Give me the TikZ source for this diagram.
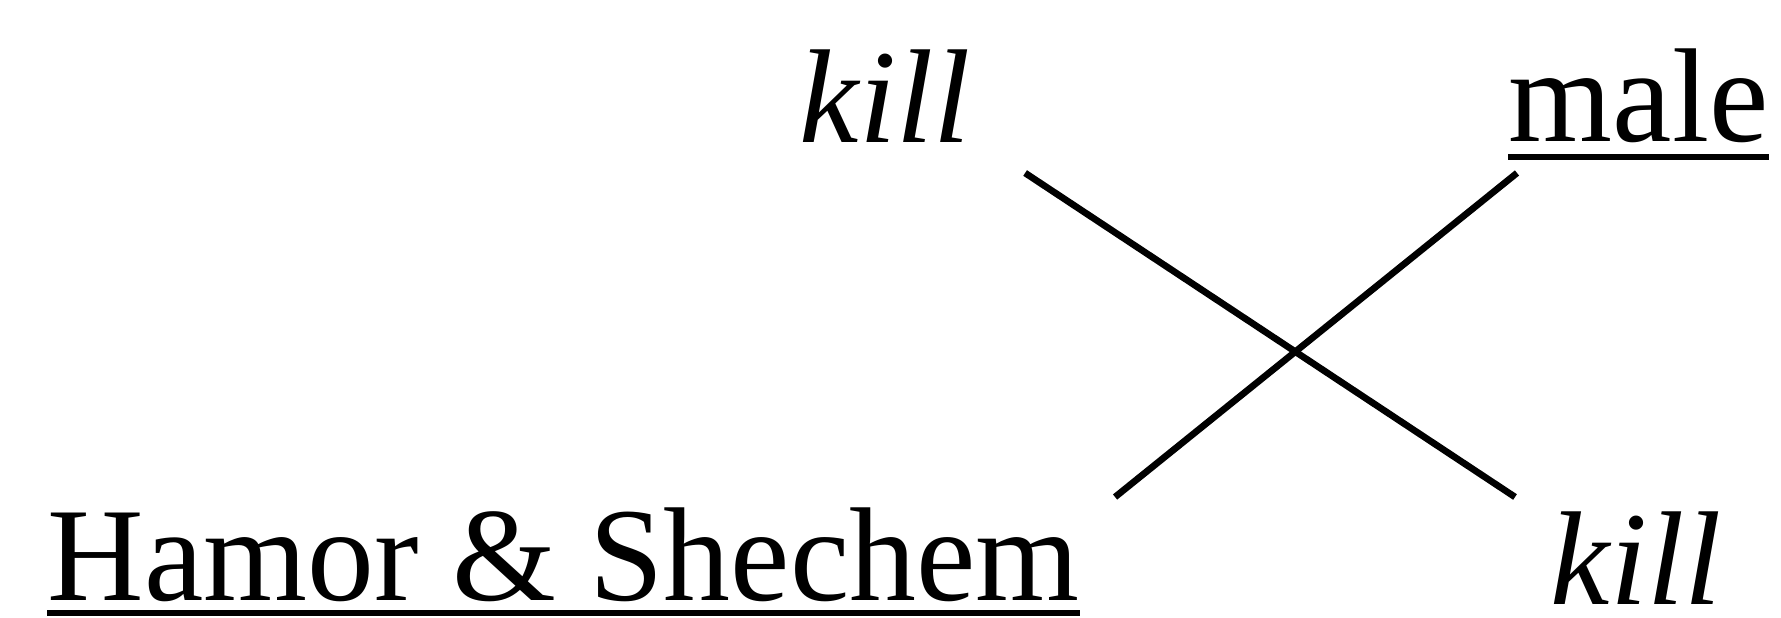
\documentclass[tikz,border=0pt]{standalone}
\usepackage{fontspec}
\setmainfont{Liberation Serif}
\usetikzlibrary{calc}

\begin{document}
\begin{tikzpicture}[
    x=0.01cm, y=0.01cm,
    word/.style={anchor=base west, inner sep=0pt, text depth=0pt, font=\fontsize{38}{46}\selectfont},
    uline/.style={line width=1.7pt},
    link/.style={line width=1.9pt},
  ]
  \useasboundingbox (0,0) rectangle (1781,618);

  \node[word] (kill1) at (799,475) {\textit{kill}};
  \node[word] (male) at (1508,476) {male};
  \node[word] (hamor) at (47,18) {Hamor \& Shechem};
  \node[word] (kill2) at (1550,13) {\textit{kill}};

  % underlines
  \draw[uline] ([yshift=-0.15cm]male.base west) -- ([yshift=-0.15cm]male.base east);
  \draw[uline] ([yshift=-0.13cm]hamor.base west) -- ([yshift=-0.13cm]hamor.base east);

  % the crossing lines
  \coordinate (tl) at ([shift={(54,-30)}]kill1.base east);
  \coordinate (br) at ([shift={(-35,108)}]kill2.base west);
  \coordinate (bl) at ([shift={(35,103)}]hamor.base east);
  \coordinate (tr) at ([shift={(9,-31)}]male.base west);

  \draw[link] (tl) -- (br);
  \draw[link] (bl) -- (tr);

\end{tikzpicture}
\end{document}
